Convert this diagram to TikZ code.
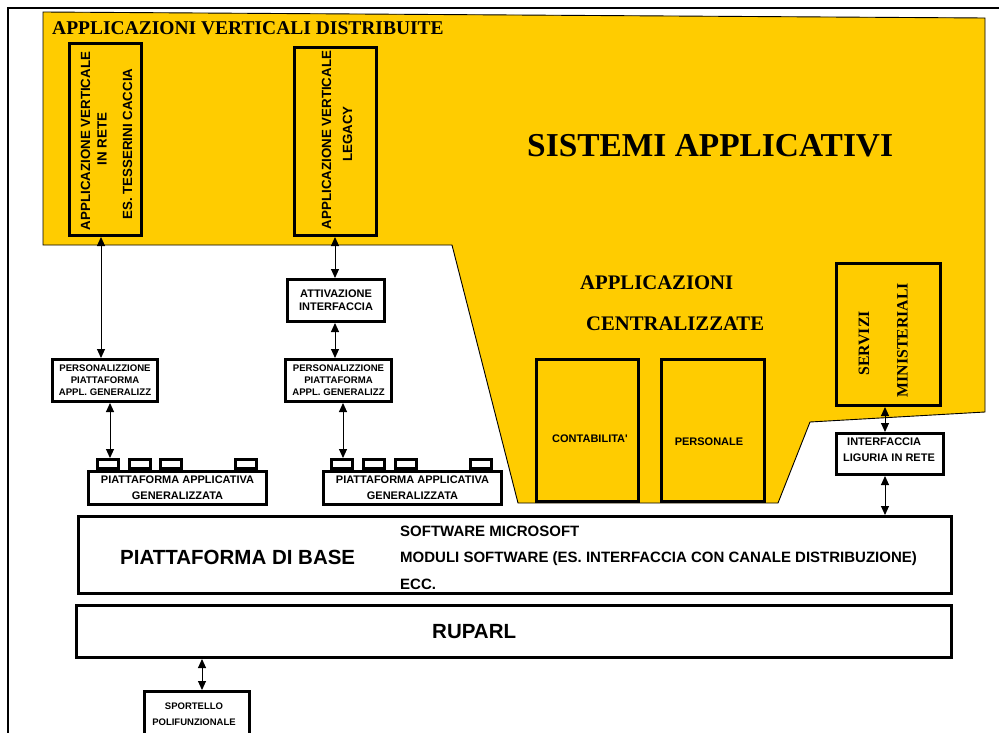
\documentclass[tikz,border=0pt]{standalone}
\usepackage{fontspec}
\setmainfont{Liberation Serif}
\setsansfont{Liberation Sans}
\usetikzlibrary{arrows.meta}
\definecolor{ylw}{HTML}{FFCC00}
\newcommand\myfs[2]{\fontsize{#1pt}{#2pt}\selectfont}
\begin{document}
\begin{tikzpicture}[x=1pt,y=-1pt,
  box/.style={draw=black, line width=3pt, fill=white, inner sep=0pt, rectangle},
  ybox/.style={box, fill=ylw},
  txt/.style={inner sep=0pt},
  dbl/.style={{Triangle[length=9pt,width=8pt]}-{Triangle[length=9pt,width=8pt]}, line width=1pt},
]
\useasboundingbox (0,0) rectangle (999,733);
\clip (0,0) rectangle (999,733);
\fill[white] (0,0) rectangle (999,733);

% yellow area
\filldraw[fill=ylw, draw=black, line width=0.9pt] (43,12) -- (985,18) -- (985,412) -- (810,422) -- (778,503) -- (518,503) -- (452,245) -- (43,245) -- cycle;

% frame
\draw[line width=2.8pt] (8,745) -- (8,8) -- (1010,8);

% titles
\node[txt, anchor=base west, font=\bfseries\myfs{19.5}{23}] (ttl) at (52,34.3) {APPLICAZIONI VERTICALI DISTRIBUITE};
\node[txt, anchor=base west, font=\bfseries\myfs{33.4}{40}] (sa) at (527,157) {SISTEMI APPLICATIVI};
\node[txt, anchor=base west, font=\bfseries\myfs{20.7}{25}] (ac1) at (580,289.3) {APPLICAZIONI};
\node[txt, anchor=base west, font=\bfseries\myfs{20.7}{25}] (ac2) at (586,330.5) {CENTRALIZZATE};

% vertical applications
\node[ybox, minimum width=72pt, minimum height=192pt] (v1) at (105.5,139.5) {};
\node[txt, rotate=90, font=\sffamily\bfseries\myfs{13.3}{16}] (v1a) at (85.5,141) {APPLICAZIONE VERTICALE};
\node[txt, rotate=90, font=\sffamily\bfseries\myfs{13.3}{16}] (v1b) at (102,139) {IN RETE};
\node[txt, rotate=90, font=\sffamily\bfseries\myfs{13.3}{16}] (v1c) at (127.5,144) {ES. TESSERINI CACCIA};

\node[ybox, minimum width=82pt, minimum height=188pt] (v2) at (335.5,141.5) {};
\node[txt, rotate=90, font=\sffamily\bfseries\myfs{13.3}{16}] (v2a) at (326.5,140) {APPLICAZIONE VERTICALE};
\node[txt, rotate=90, font=\sffamily\bfseries\myfs{13.3}{16}] (v2b) at (347.5,134) {LEGACY};

% column 1
\node[box, minimum width=105pt, minimum height=42pt, align=center, font=\sffamily\bfseries\myfs{9.6}{12}] (p1) at (105,380.5) {PERSONALIZZIONE\\PIATTAFORMA\\APPL. GENERALIZZ};
\node[box, minimum width=21pt, minimum height=9pt] (t11) at (108,464) {};
\node[box, minimum width=21pt, minimum height=9pt] (t12) at (139.5,464) {};
\node[box, minimum width=21pt, minimum height=9pt] (t13) at (170.5,464) {};
\node[box, minimum width=21pt, minimum height=9pt] (t14) at (246,464) {};
\node[box, minimum width=178pt, minimum height=33pt, align=center, font=\sffamily\bfseries\myfs{11}{16}] (g1) at (177.5,488) {PIATTAFORMA APPLICATIVA\\GENERALIZZATA};

% column 2
\node[box, minimum width=97pt, minimum height=42pt, align=center, font=\sffamily\bfseries\myfs{11}{13}] (at) at (336,300.5) {ATTIVAZIONE\\INTERFACCIA};
\node[box, minimum width=106pt, minimum height=42pt, align=center, font=\sffamily\bfseries\myfs{9.6}{12}] (p2) at (338.5,380.5) {PERSONALIZZIONE\\PIATTAFORMA\\APPL. GENERALIZZ};
\node[box, minimum width=21pt, minimum height=9pt] (t21) at (341.5,464) {};
\node[box, minimum width=21pt, minimum height=9pt] (t22) at (374,464) {};
\node[box, minimum width=21pt, minimum height=9pt] (t23) at (405.5,464) {};
\node[box, minimum width=21pt, minimum height=9pt] (t24) at (481,464) {};
\node[box, minimum width=178pt, minimum height=33pt, align=center, font=\sffamily\bfseries\myfs{11}{16}] (g2) at (412.5,488) {PIATTAFORMA APPLICATIVA\\GENERALIZZATA};

% centralised applications
\node[ybox, minimum width=102pt, minimum height=142pt] (ct) at (587.5,430.5) {};
\node[txt, font=\sffamily\bfseries\myfs{11}{13}] (ctt) at (590,439) {CONTABILITA\textquotesingle};
\node[ybox, minimum width=103pt, minimum height=142pt] (ps) at (713,430.5) {};
\node[txt, font=\sffamily\bfseries\myfs{11}{13}] (pst) at (709,442) {PERSONALE};

% ministerial services
\node[ybox, minimum width=104pt, minimum height=142pt] (sm) at (888.5,334.5) {};
\node[txt, rotate=90, font=\bfseries\myfs{15.8}{19}] (sm1) at (864,343.5) {SERVIZI};
\node[txt, rotate=90, font=\bfseries\myfs{15.8}{19}] (sm2) at (902.5,340) {MINISTERIALI};
\node[box, minimum width=107pt, minimum height=41pt] (il) at (890,454) {};
\node[txt, anchor=west, align=left, font=\sffamily\bfseries\myfs{11}{16}] (ilt) at (843,450) {\hspace*{4pt}INTERFACCIA\\LIGURIA IN RETE};

% base platform
\node[box, minimum width=873pt, minimum height=77pt] (pb) at (515,555) {};
\node[txt, anchor=base west, font=\sffamily\bfseries\myfs{20.5}{24}] (pbt) at (120,564) {PIATTAFORMA DI BASE};
\node[txt, anchor=base west, font=\sffamily\bfseries\myfs{15}{18}] (sw1) at (400,536) {SOFTWARE MICROSOFT};
\node[txt, anchor=base west, font=\sffamily\bfseries\myfs{15}{18}] (sw2) at (400,562.5) {MODULI SOFTWARE (ES. INTERFACCIA CON CANALE DISTRIBUZIONE)};
\node[txt, anchor=base west, font=\sffamily\bfseries\myfs{15}{18}] (sw3) at (400,589) {ECC.};

% RUPARL
\node[box, minimum width=875pt, minimum height=52pt] (rp) at (514,631.5) {};
\node[txt, anchor=base west, font=\sffamily\bfseries\myfs{20.5}{24}] (rpt) at (432,638.3) {RUPARL};

% sportello
\node[box, minimum width=105pt, minimum height=58pt] (sp) at (197,720.5) {};
\node[txt, align=center, font=\sffamily\bfseries\myfs{9.5}{16}] (spt) at (194,714) {SPORTELLO\\POLIFUNZIONALE};

% connector x positions
\coordinate (c1) at (101,0);
\coordinate (c2) at (110,0);
\coordinate (c3) at (335,0);
\coordinate (c4) at (343,0);
\coordinate (c5) at (885,0);
\coordinate (c6) at (202,0);

\draw[dbl] (v1.south -| c1) -- (p1.north -| c1);
\draw[dbl] (p1.south -| c2) -- (t11.north -| c2);
\draw[dbl] (v2.south -| c3) -- (at.north -| c3);
\draw[dbl] (at.south -| c3) -- (p2.north -| c3);
\draw[dbl] (p2.south -| c4) -- (t21.north -| c4);
\draw[dbl] (sm.south -| c5) -- (il.north -| c5);
\draw[dbl] (il.south -| c5) -- (pb.north -| c5);
\draw[dbl] (rp.south -| c6) -- (sp.north -| c6);
\end{tikzpicture}
\end{document}
